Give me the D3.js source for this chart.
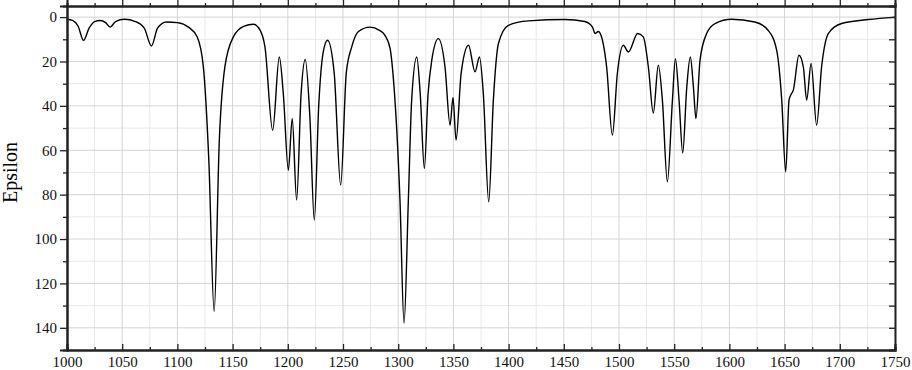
<!DOCTYPE html>
<html>
<head>
<meta charset="utf-8">
<script src="https://cdn.jsdelivr.net/npm/d3@7"></script>
<style>
  body { margin: 0; background: #fff; }
  svg { display: block; }
  text { font-family: 'Liberation Serif', 'Times New Roman', serif; }
</style>
</head>
<body>
<svg></svg>
<script>
'use strict';

const svgWidth = 912;
const svgHeight = 370;

const margin = { top: 6, right: 17, bottom: 20, left: 67 };
const width = svgWidth - margin.left - margin.right;
const height = svgHeight - margin.top - margin.bottom;

// spectrum
const wavenumber = [
  1000, 1005, 1010, 1015, 1020, 1025, 1030, 1035, 1039, 1044,
  1052, 1062, 1070, 1076.5, 1082, 1090, 1100, 1110, 1118, 1123.5,
  1128.5, 1133.3, 1138, 1143, 1150.7, 1160, 1168.8, 1175, 1179.3, 1186.3,
  1192.3, 1196, 1200.5, 1204, 1208, 1212, 1215.8, 1220, 1224, 1228,
  1232, 1236, 1242, 1247.9, 1253, 1257.9, 1264, 1274.5, 1283, 1288,
  1292.6, 1296, 1301.6, 1305.3, 1309.2, 1312.2, 1316.8, 1320, 1323.7, 1327,
  1330.4, 1336.4, 1342.4, 1347, 1349.6, 1352.4, 1357, 1363.7, 1369.6, 1373.6,
  1377.1, 1382, 1386.2, 1390.8, 1399.8, 1418, 1451, 1469, 1476, 1478.3,
  1481.2, 1483.7, 1488.8, 1494, 1498.5, 1503.9, 1508.5, 1516.9, 1522, 1526.6,
  1531.1, 1535.6, 1539.3, 1543.8, 1548.4, 1551.1, 1554.4, 1557.7, 1561.4, 1564.6,
  1567.4, 1569.7, 1573.4, 1579.4, 1587, 1602, 1623, 1635, 1642.8, 1647.4,
  1651, 1654, 1655.5, 1657.9, 1663, 1667, 1670, 1674, 1679, 1683.5,
  1689.6, 1701.7, 1726, 1750
];
const epsilon = [
  1, 1.5, 4, 10.5, 5, 2, 1.5, 2.5, 4.5, 2,
  1, 2, 5, 13, 5, 2.2, 2.5, 4.5, 9, 22.4,
  65, 132.7, 55, 22.4, 8.9, 4.2, 3.2, 6, 13.4, 51,
  18, 35, 69, 45.7, 82.4, 35, 19.1, 45, 91.4, 40,
  16, 10.4, 25, 75.7, 25, 13.4, 6.5, 4.5, 6, 8.2,
  14, 30, 82.4, 137.9, 82.4, 37.4, 18, 35, 68.2, 35,
  19.4, 9.7, 22.5, 48.7, 36.2, 55.4, 25.4, 12.7, 24.7, 18,
  34.4, 83.2, 37.4, 11.9, 3.7, 1.7, 1.1, 2, 4.5, 7.4,
  6.5, 8.2, 22.5, 53.2, 25.4, 12.7, 15.7, 7.4, 8.9, 22.5,
  43.2, 21.7, 37.4, 74.2, 37.4, 18.7, 37.4, 61.2, 31.5, 18,
  31.5, 45.7, 19.4, 7.4, 2.9, 1, 2.2, 5.9, 14.9, 37.4,
  69.7, 37.4, 35.2, 32.9, 17.2, 22.5, 37.4, 20.9, 48.7, 22.5,
  7.4, 2.9, 1.1, 0
];

const xMajor = d3.range(1000, 1751, 50);
const xMinor = d3.range(1025, 1750, 50);
const yMajor = d3.range(0, 141, 20);
const yMinor = d3.range(10, 150, 20);

const data = wavenumber.map((w, i) => ({ w: w, e: epsilon[i] }));

const svg = d3.select('svg')
  .attr('width', svgWidth)
  .attr('height', svgHeight);

const svgG = svg.append('g')
  .attr('transform', `translate(${margin.left}, ${margin.top})`);

const x = d3.scaleLinear()
  .domain([1000, 1750])
  .range([0, width]);

const y = d3.scaleLinear()
  .domain([-5, 150])
  .range([0, height]);

// grid
svgG.append('g')
  .selectAll('line')
  .data(xMinor)
  .join('line')
  .attr('x1', d => x(d)).attr('x2', d => x(d))
  .attr('y1', 0).attr('y2', height)
  .attr('stroke', '#e8e8e8');

svgG.append('g')
  .selectAll('line')
  .data(yMinor)
  .join('line')
  .attr('x1', 0).attr('x2', width)
  .attr('y1', d => y(d)).attr('y2', d => y(d))
  .attr('stroke', '#e8e8e8');

svgG.append('g')
  .selectAll('line')
  .data(xMajor)
  .join('line')
  .attr('x1', d => x(d)).attr('x2', d => x(d))
  .attr('y1', 0).attr('y2', height)
  .attr('stroke', '#d4d4d4');

svgG.append('g')
  .selectAll('line')
  .data(yMajor)
  .join('line')
  .attr('x1', 0).attr('x2', width)
  .attr('y1', d => y(d)).attr('y2', d => y(d))
  .attr('stroke', '#d4d4d4');

// spectrum
svgG.append('path')
  .datum(data)
  .attr('fill', 'none')
  .attr('stroke', 'black')
  .attr('stroke-width', 1.4)
  .attr('d', d3.line()
    .curve(d3.curveMonotoneX)
    .x(d => x(d.w))
    .y(d => y(d.e))
  );

// axes
function styleAxis(g) {
  g.select('.domain').attr('stroke', '#222').attr('stroke-width', 2);
  g.selectAll('.tick line').attr('stroke', '#222').attr('stroke-width', 1.3);
  g.selectAll('.tick text').attr('font-size', 15).attr('fill', '#111');
}

// bottom: ticks pointing inward
svgG.append('g')
  .attr('transform', `translate(0, ${height})`)
  .call(d3.axisBottom(x).tickValues(xMajor).tickSize(-6).tickPadding(6).tickFormat(d3.format('d')))
  .call(styleAxis);
svgG.append('g')
  .attr('transform', `translate(0, ${height})`)
  .call(d3.axisBottom(x).tickValues(xMinor).tickSize(-3).tickFormat(''))
  .call(styleAxis);

// top: ticks outward, no labels
svgG.append('g')
  .call(d3.axisTop(x).tickValues(xMajor).tickSize(6).tickFormat(''))
  .call(styleAxis);
svgG.append('g')
  .call(d3.axisTop(x).tickValues(xMinor).tickSize(3).tickFormat(''))
  .call(styleAxis);

// left: ticks outward
svgG.append('g')
  .call(d3.axisLeft(y).tickValues(yMajor).tickSize(7).tickPadding(3))
  .call(styleAxis);
svgG.append('g')
  .call(d3.axisLeft(y).tickValues(yMinor).tickSize(4).tickFormat(''))
  .call(styleAxis);

// right: ticks inward, no labels
svgG.append('g')
  .attr('transform', `translate(${width}, 0)`)
  .call(d3.axisRight(y).tickValues(yMajor.concat(yMinor)).tickSize(-6).tickFormat(''))
  .call(styleAxis);

// y label
svg.append('text')
  .attr('text-anchor', 'middle')
  .attr('transform', `translate(17, ${margin.top + y(70)}) rotate(-90)`)
  .attr('font-size', 20)
  .text('Epsilon');
</script>
</body>
</html>
